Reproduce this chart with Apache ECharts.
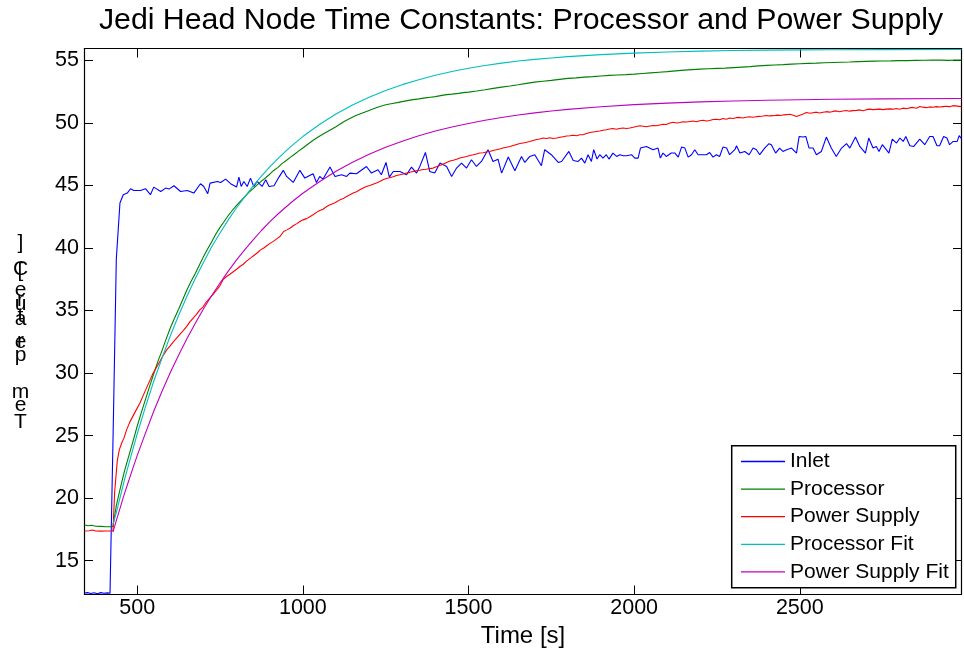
<!DOCTYPE html>
<html><head><meta charset="utf-8">
<script src="https://cdn.jsdelivr.net/npm/echarts@6.0.0/dist/echarts.min.js"></script>
<style>html,body{margin:0;padding:0;background:#fff}#chart{width:964px;height:655px}</style>
</head><body><div id="chart"></div>
<script>
const titleText = 'Jedi Head Node Time Constants: Processor and Power Supply';
const xAxisTitle = 'Time [s]';
const yAxisTitle = 'Temperature [C]';
const seriesNames = ['Inlet', 'Processor', 'Power Supply', 'Processor Fit', 'Power Supply Fit'];
const xTicks = [500, 1000, 1500, 2000, 2500];
const yTicks = [15, 20, 25, 30, 35, 40, 45, 50, 55];
const xRange = [341, 2988];
const yRange = [12.3, 55.95];

const inlet = [[341,12.42],[350,12.45],[360,12.38],[370,12.44],[380,12.36],[390,12.45],[400,12.40],[410,12.43],[418,12.40],[428,26.0],[437,39.1],[448,43.6],[458,44.26],[470,44.39],[480,44.74],[490,44.60],[510,44.60],[525,44.74],[540,44.26],[550,44.87],[571,44.52],[586,44.79],[596,44.71],[611,44.98],[631,44.52],[651,44.60],[671,44.39],[691,45.14],[701,44.92],[713,44.34],[720,45.19],[742,45.32],[752,45.24],[767,45.51],[782,45.14],[800,44.87],[807,45.67],[814,44.92],[822,45.32],[832,44.92],[842,45.59],[852,44.92],[862,45.32],[877,44.92],[888,45.46],[898,44.92],[913,44.98],[928,45.67],[941,46.21],[951,45.72],[971,45.24],[991,46.21],[1006,45.59],[1031,45.94],[1041,45.24],[1051,45.72],[1061,45.51],[1082,46.47],[1097,45.72],[1117,45.86],[1132,45.72],[1142,45.99],[1162,45.94],[1192,46.52],[1207,45.99],[1227,46.26],[1237,45.86],[1251,46.84],[1261,45.67],[1273,46.12],[1293,46.12],[1313,45.86],[1328,46.47],[1343,45.99],[1351,46.39],[1370,47.64],[1383,46.12],[1398,45.99],[1414,46.79],[1434,46.52],[1449,45.72],[1464,46.39],[1479,46.79],[1494,46.39],[1509,47.06],[1524,46.52],[1539,46.92],[1559,47.86],[1574,46.92],[1589,47.10],[1600,45.99],[1620,47.27],[1640,46.18],[1660,47.32],[1670,46.84],[1685,47.32],[1700,47.46],[1720,46.58],[1730,47.86],[1750,47.46],[1771,46.84],[1781,46.92],[1803,47.72],[1816,47.0],[1831,46.92],[1841,47.19],[1851,46.79],[1861,47.46],[1871,46.92],[1878,47.86],[1888,47.11],[1896,47.46],[1906,47.19],[1916,47.46],[1924,47.11],[1936,47.59],[1947,47.32],[1957,47.46],[1967,47.38],[1977,47.38],[1992,47.46],[2002,47.19],[2012,47.19],[2019,47.99],[2037,48.12],[2057,47.86],[2072,47.99],[2079,47.19],[2087,47.59],[2097,47.32],[2112,47.59],[2123,47.59],[2133,47.27],[2143,48.07],[2153,47.99],[2163,47.27],[2173,47.46],[2183,47.86],[2193,47.46],[2208,47.46],[2218,47.46],[2228,47.64],[2238,47.27],[2248,47.46],[2258,47.32],[2268,48.07],[2279,47.99],[2288,47.46],[2304,47.86],[2309,48.18],[2319,47.59],[2334,47.72],[2347,47.46],[2359,47.99],[2369,47.86],[2379,47.46],[2394,47.99],[2407,48.34],[2414,48.26],[2427,47.59],[2439,47.99],[2449,47.72],[2460,47.86],[2475,47.99],[2490,47.59],[2498,48.92],[2510,48.87],[2518,48.92],[2528,47.99],[2540,47.99],[2550,47.46],[2565,47.72],[2580,48.87],[2595,47.99],[2610,47.32],[2626,47.99],[2641,48.34],[2651,47.99],[2668,48.87],[2681,48.12],[2698,47.59],[2708,48.79],[2721,47.99],[2731,48.12],[2739,47.72],[2749,48.26],[2769,47.59],[2779,48.71],[2792,48.39],[2802,48.79],[2812,48.52],[2820,48.92],[2832,48.18],[2844,48.12],[2862,48.71],[2877,48.26],[2892,48.92],[2902,48.92],[2914,48.18],[2922,48.18],[2934,48.92],[2944,48.79],[2952,48.26],[2963,48.52],[2975,48.52],[2981,48.98],[2988,48.75]];

const processor = [[341,17.85],[352,17.8],[362,17.83],[375,17.76],[390,17.75],[405,17.72],[418,17.73],[427,17.75],[437,19.4],[450,20.9],[462,22.2],[475,23.4],[488,24.6],[500,25.75],[512,26.8],[525,27.9],[537,28.9],[550,29.95],[562,30.9],[575,31.8],[587,32.7],[600,33.6],[612,34.35],[625,35.1],[637,35.85],[650,36.65],[662,37.3],[675,37.95],[687,38.6],[700,39.3],[712,39.9],[725,40.5],[737,41.1],[750,41.65],[762,42.1],[775,42.6],[787,43.0],[800,43.4],[812,43.75],[825,44.1],[837,44.45],[850,44.75],[862,45.05],[875,45.35],[887,45.6],[900,45.9],[912,46.2],[925,46.45],[937,46.75],[950,47.0],[962,47.25],[975,47.5],[987,47.75],[1000,48.0],[1015,48.3],[1030,48.6],[1045,48.85],[1060,49.1],[1080,49.4],[1100,49.7],[1115,49.95],[1130,50.2],[1145,50.4],[1160,50.6],[1180,50.8],[1200,51.0],[1215,51.15],[1230,51.3],[1250,51.45],[1270,51.55],[1285,51.62],[1300,51.7],[1315,51.78],[1333,51.86],[1350,51.92],[1370,52.0],[1385,52.05],[1400,52.1],[1420,52.2],[1434,52.26],[1450,52.3],[1470,52.36],[1485,52.42],[1500,52.46],[1525,52.55],[1550,52.65],[1575,52.76],[1600,52.86],[1625,52.95],[1650,53.05],[1675,53.16],[1700,53.26],[1725,53.33],[1750,53.4],[1775,53.48],[1800,53.56],[1825,53.6],[1850,53.66],[1875,53.7],[1900,53.75],[1925,53.8],[1950,53.83],[1975,53.86],[2000,53.9],[2025,53.95],[2050,54.0],[2075,54.05],[2100,54.1],[2125,54.16],[2150,54.22],[2175,54.26],[2200,54.3],[2225,54.33],[2250,54.36],[2275,54.38],[2300,54.42],[2325,54.46],[2350,54.5],[2375,54.56],[2400,54.6],[2425,54.63],[2450,54.66],[2475,54.7],[2500,54.73],[2525,54.76],[2550,54.78],[2575,54.81],[2600,54.83],[2625,54.85],[2650,54.87],[2675,54.9],[2700,54.92],[2725,54.94],[2750,54.95],[2775,54.96],[2800,54.98],[2825,54.98],[2850,55.0],[2875,55.01],[2900,55.02],[2925,55.02],[2950,55.0],[2970,55.03],[2988,55.02]];

const powerSupply = [[341,17.38],[355,17.4],[365,17.45],[375,17.38],[390,17.37],[405,17.38],[418,17.38],[427,17.38],[432,20.5],[440,23.0],[446,23.86],[453,24.39],[460,24.8],[468,25.46],[478,26.1],[488,26.6],[498,27.1],[508,27.59],[518,28.2],[528,28.8],[538,29.4],[548,29.99],[558,30.45],[568,30.9],[578,31.4],[589,31.86],[599,32.15],[609,32.5],[619,32.8],[629,33.1],[639,33.4],[649,33.72],[659,34.1],[669,34.4],[679,34.7],[689,35.06],[699,35.3],[709,35.7],[719,36.0],[729,36.3],[740,36.66],[750,37.0],[760,37.5],[770,37.72],[780,37.9],[790,38.1],[800,38.3],[810,38.52],[820,38.7],[830,38.95],[842,39.19],[852,39.4],[862,39.6],[872,39.85],[882,40.0],[892,40.2],[902,40.39],[912,40.55],[922,40.75],[931,40.92],[942,41.32],[952,41.45],[962,41.6],[972,41.8],[982,41.95],[991,42.12],[1001,42.25],[1011,42.35],[1021,42.5],[1031,42.66],[1041,42.85],[1051,43.0],[1061,43.1],[1072,43.32],[1082,43.45],[1092,43.55],[1102,43.7],[1112,43.85],[1122,43.95],[1132,44.12],[1142,44.25],[1152,44.4],[1162,44.5],[1172,44.65],[1182,44.8],[1192,44.92],[1202,45.0],[1212,45.1],[1222,45.2],[1232,45.32],[1242,45.45],[1252,45.55],[1262,45.62],[1272,45.7],[1283,45.8],[1293,45.86],[1303,45.92],[1313,46.0],[1323,46.05],[1333,46.12],[1343,46.18],[1353,46.22],[1363,46.28],[1373,46.3],[1383,46.35],[1393,46.39],[1403,46.5],[1413,46.6],[1423,46.7],[1434,46.84],[1444,46.95],[1454,47.02],[1464,47.1],[1474,47.2],[1484,47.25],[1494,47.32],[1504,47.4],[1514,47.45],[1524,47.52],[1534,47.59],[1544,47.62],[1554,47.68],[1564,47.72],[1574,47.8],[1584,47.85],[1594,47.91],[1604,48.0],[1614,48.05],[1625,48.12],[1635,48.2],[1645,48.28],[1655,48.35],[1665,48.4],[1675,48.45],[1685,48.52],[1695,48.6],[1705,48.68],[1715,48.72],[1725,48.79],[1735,48.75],[1745,48.82],[1755,48.76],[1766,48.79],[1776,48.85],[1786,48.9],[1796,48.95],[1806,48.98],[1816,49.02],[1826,48.98],[1836,49.05],[1846,49.06],[1856,49.15],[1866,49.24],[1876,49.28],[1886,49.32],[1896,49.36],[1906,49.42],[1916,49.46],[1926,49.51],[1936,49.55],[1946,49.5],[1956,49.56],[1966,49.6],[1977,49.56],[1987,49.59],[1997,49.65],[2007,49.72],[2017,49.78],[2027,49.74],[2037,49.7],[2047,49.76],[2057,49.8],[2067,49.78],[2077,49.84],[2087,49.9],[2097,49.88],[2108,49.99],[2118,50.05],[2128,50.0],[2138,50.04],[2148,50.1],[2158,50.08],[2168,50.12],[2178,50.16],[2188,50.1],[2198,50.18],[2208,50.22],[2218,50.16],[2228,50.2],[2238,50.28],[2248,50.3],[2258,50.26],[2268,50.35],[2278,50.3],[2288,50.39],[2298,50.36],[2308,50.42],[2318,50.44],[2328,50.4],[2338,50.45],[2348,50.5],[2358,50.46],[2369,50.5],[2379,50.52],[2389,50.55],[2399,50.6],[2409,50.56],[2419,50.58],[2429,50.62],[2440,50.6],[2450,50.64],[2460,50.66],[2470,50.7],[2480,50.62],[2490,50.52],[2500,50.62],[2510,50.72],[2520,50.84],[2530,50.78],[2540,50.82],[2550,50.86],[2560,50.8],[2570,50.85],[2580,50.9],[2590,50.86],[2600,50.92],[2610,50.96],[2620,50.9],[2630,50.95],[2640,51.0],[2650,50.94],[2660,50.98],[2671,51.0],[2681,51.04],[2691,50.98],[2701,51.06],[2711,51.1],[2721,51.06],[2731,51.08],[2741,51.1],[2751,51.06],[2761,51.1],[2771,51.12],[2781,51.1],[2791,51.15],[2801,51.1],[2811,51.18],[2821,51.14],[2831,51.2],[2841,51.24],[2852,51.18],[2862,51.32],[2872,51.26],[2882,51.22],[2892,51.28],[2902,51.25],[2912,51.3],[2922,51.27],[2932,51.3],[2942,51.33],[2952,51.3],[2962,51.38],[2975,51.34],[2988,51.3]];

const processorFit = [[427,17.9],[437,18.85],[450,20.23],[462,21.5],[475,22.77],[487,23.9],[500,25.13],[525,27.3],[550,29.35],[575,31.2],[600,32.99],[625,34.6],[650,36.13],[675,37.55],[700,38.85],[725,40.1],[750,41.2],[775,42.25],[800,43.22],[825,44.1],[850,44.97],[875,45.75],[900,46.48],[925,47.15],[950,47.78],[975,48.36],[1000,48.91],[1050,49.87],[1100,50.72],[1150,51.43],[1200,52.06],[1250,52.59],[1300,53.06],[1350,53.45],[1400,53.81],[1450,54.11],[1500,54.37],[1550,54.59],[1600,54.78],[1650,54.95],[1700,55.08],[1750,55.19],[1800,55.3],[1900,55.46],[2000,55.58],[2100,55.67],[2200,55.74],[2300,55.79],[2400,55.82],[2500,55.84],[2600,55.85],[2750,55.86],[2988,55.87]];

const powerSupplyFit = [[427,17.3],[437,18.2],[450,19.34],[462,20.4],[475,21.43],[487,22.4],[500,23.4],[525,25.2],[550,26.95],[575,28.55],[600,30.04],[625,31.43],[650,32.74],[675,33.97],[700,35.13],[725,36.2],[750,37.2],[775,38.15],[800,39.05],[825,39.87],[850,40.65],[875,41.4],[900,42.09],[925,42.72],[950,43.3],[975,43.86],[1000,44.38],[1050,45.3],[1100,46.14],[1150,46.86],[1200,47.5],[1250,48.05],[1300,48.54],[1350,48.97],[1400,49.35],[1450,49.68],[1500,49.96],[1550,50.21],[1600,50.44],[1650,50.63],[1700,50.8],[1750,50.95],[1800,51.08],[1900,51.29],[2000,51.46],[2100,51.58],[2200,51.68],[2300,51.75],[2400,51.81],[2500,51.85],[2600,51.89],[2750,51.92],[2988,51.95]];

const seriesData = [inlet, processor, powerSupply, processorFit, powerSupplyFit];
const seriesColors = ['#0000FF', '#008000', '#FF0000', '#00BFBF', '#BF00BF'];

// layout of the (upright, stacked) y-axis label glyphs, bottom-to-top
const yLabelGlyphMidY = [422.7, 405.7, 392.7, 355.7, 342.7, 341.7, 319.7, 316.7, 304.7, 300.7, 290.7, null, 271.7, 269.7, 243.7];

const FONT = "'Liberation Sans', Arial, Helvetica, sans-serif";

const chart = echarts.init(document.getElementById('chart'), null, {renderer: 'canvas', width: 964, height: 655});

const graphics = [{
  type: 'text', x: 521, y: 20.5, silent: true,
  style: {text: titleText, fill: '#000', font: '30.3px ' + FONT, fontSize: 30.3, fontFamily: FONT,
          align: 'center', verticalAlign: 'middle', textAlign: 'center', textVerticalAlign: 'middle'}
}];
yAxisTitle.split('').forEach((ch, i) => {
  if (ch === ' ' || yLabelGlyphMidY[i] == null) return;
  graphics.push({
    type: 'text', x: 20.5, y: yLabelGlyphMidY[i], silent: true,
    style: {text: ch, fill: '#000', font: '21px ' + FONT, fontSize: 21, fontFamily: FONT,
            align: 'center', verticalAlign: 'middle', textAlign: 'center', textVerticalAlign: 'middle'}
  });
});

const axisLine = {show: true, onZero: false, lineStyle: {color: '#000', width: 1.2}};
const plainNumber = v => String(v);

const option = {
  animation: false,
  backgroundColor: '#fff',
  grid: {left: 84.5, top: 48.5, width: 877, height: 546, containLabel: false, outerBoundsMode: 'none'},
  graphic: graphics,
  legend: {
    orient: 'vertical', left: 731.7, top: 445.7,
    padding: [2, 7, 2, 9.3], itemGap: 0, itemWidth: 44, itemHeight: 1.3, icon: 'rect',
    backgroundColor: '#fff', borderColor: '#000', borderWidth: 1.5, borderRadius: 0,
    textStyle: {fontSize: 21, fontFamily: FONT, color: '#000', lineHeight: 27.6},
    data: seriesNames, selectedMode: false
  },
  xAxis: [{
    type: 'value', position: 'bottom', min: xRange[0], max: xRange[1],
    axisLine: axisLine,
    axisTick: {show: true, inside: true, length: 9, customValues: xTicks, lineStyle: {color: '#000', width: 1}},
    axisLabel: {show: true, customValues: xTicks, formatter: plainNumber, color: '#000', fontSize: 21.5, fontFamily: FONT, margin: 3},
    splitLine: {show: false},
    name: xAxisTitle, nameLocation: 'middle', nameGap: 26,
    nameTextStyle: {fontSize: 24, fontFamily: FONT, color: '#000'}
  }, {
    type: 'value', position: 'top', min: xRange[0], max: xRange[1],
    axisLine: axisLine,
    axisTick: {show: true, inside: true, length: 9, customValues: xTicks, lineStyle: {color: '#000', width: 1}},
    axisLabel: {show: false}, splitLine: {show: false}
  }],
  yAxis: [{
    type: 'value', position: 'left', min: yRange[0], max: yRange[1],
    axisLine: axisLine,
    axisTick: {show: true, inside: true, length: 8.5, customValues: yTicks, lineStyle: {color: '#000', width: 1}},
    axisLabel: {show: true, customValues: yTicks, formatter: plainNumber, color: '#000', fontSize: 21.5, fontFamily: FONT, margin: 5.5},
    splitLine: {show: false}
  }, {
    type: 'value', position: 'right', min: yRange[0], max: yRange[1],
    axisLine: axisLine,
    axisTick: {show: true, inside: true, length: 8.5, customValues: yTicks, lineStyle: {color: '#000', width: 1}},
    axisLabel: {show: false}, splitLine: {show: false}
  }],
  series: seriesNames.map((name, i) => ({
    name: name, type: 'line', data: seriesData[i], xAxisIndex: 0, yAxisIndex: 0,
    symbol: 'none', showSymbol: false, smooth: false, clip: true,
    lineStyle: {color: seriesColors[i], width: 1.1},
    itemStyle: {color: seriesColors[i]},
    emphasis: {disabled: true}
  }))
};
chart.setOption(option);
</script></body></html>
